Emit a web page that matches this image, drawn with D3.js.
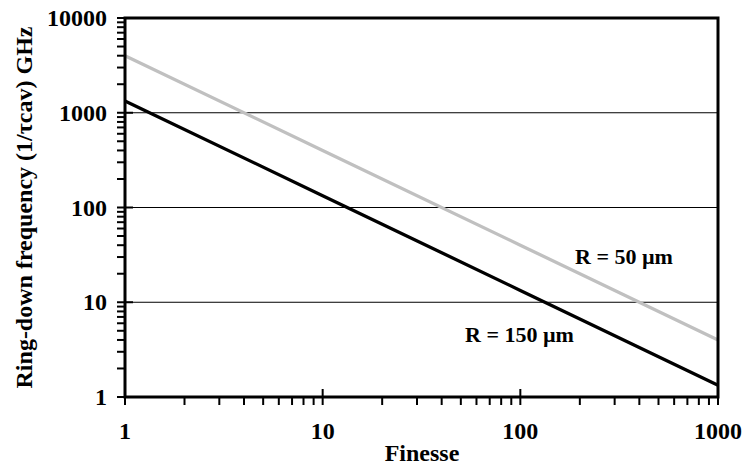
<!DOCTYPE html>
<html lang="en">
<head>
<meta charset="utf-8">
<title>Ring-down frequency</title>
<script src="https://cdn.jsdelivr.net/npm/d3@7"></script>
<style>
  body { margin: 0; background: #fff; }
  text { font-family: "Liberation Serif", "Times New Roman", serif; font-weight: bold; fill: #000; }
</style>
</head>
<body>
<script type="text/javascript">

    var width = 745;
    var height = 465;

    // data
    var finesse = [1, 10, 100, 1000];
    var r50 = [4000, 400, 40, 4];
    var r150 = [1333, 133.3, 13.33, 1.333];
    var xTickLabels = ["1", "10", "100", "1000"];
    var yTickLabels = ["1", "10", "100", "1000", "10000"];

    // plot area (note: "top" is reserved on window)
    var plotLeft = 125, plotRight = 718, plotTop = 18, plotBottom = 397;

    var x = d3.scaleLog().domain([1, 1000]).range([plotLeft, plotRight]);
    var y = d3.scaleLog().domain([1, 10000]).range([plotBottom, plotTop]);

    var svg = d3.select("body").append("svg")
    .attr("width", width)
    .attr("height", height);

    // gridlines
    svg.selectAll("line.grid")
    .data([10, 100, 1000])
    .enter()
    .append("line")
    .attr("x1", plotLeft)
    .attr("x2", plotRight)
    .attr("y1", function (d) { return y(d); })
    .attr("y2", function (d) { return y(d); })
    .attr("stroke", "#000")
    .attr("stroke-width", 1);

    var line = d3.line()
    .x(function (d) { return x(d[0]); })
    .y(function (d) { return y(d[1]); });

    svg.append("path")
    .attr("d", line(d3.zip(finesse, r50)))
    .attr("fill", "none")
    .attr("stroke", "#c0c0c0")
    .attr("stroke-width", 3.3);

    svg.append("path")
    .attr("d", line(d3.zip(finesse, r150)))
    .attr("fill", "none")
    .attr("stroke", "#000")
    .attr("stroke-width", 3.3);

    // frame
    svg.append("rect")
    .attr("x", plotLeft)
    .attr("y", plotTop)
    .attr("width", plotRight - plotLeft)
    .attr("height", plotBottom - plotTop)
    .attr("fill", "none")
    .attr("stroke", "#000")
    .attr("stroke-width", 3);

    function isMajor(d) { return Math.abs(Math.log10(d) - Math.round(Math.log10(d))) < 1e-9; }

    // x ticks
    svg.selectAll("line.xt")
    .data(x.ticks())
    .enter()
    .append("line")
    .attr("x1", function (d) { return x(d); })
    .attr("x2", function (d) { return x(d); })
    .attr("y1", function (d) { return isMajor(d) ? plotBottom - 8 : plotBottom; })
    .attr("y2", plotBottom + 8)
    .attr("stroke", "#000")
    .attr("stroke-width", 2);

    // y ticks
    svg.selectAll("line.yt")
    .data(y.ticks())
    .enter()
    .append("line")
    .attr("y1", function (d) { return y(d); })
    .attr("y2", function (d) { return y(d); })
    .attr("x1", plotLeft - 8)
    .attr("x2", function (d) { return isMajor(d) ? plotLeft + 8 : plotLeft; })
    .attr("stroke", "#000")
    .attr("stroke-width", 2);

    svg.selectAll("text.xl")
    .data(xTickLabels)
    .enter()
    .append("text")
    .attr("x", function (d) { return x(+d); })
    .attr("y", 439)
    .attr("text-anchor", "middle")
    .attr("font-size", 24)
    .text(function (d) { return d; });

    svg.selectAll("text.yl")
    .data(yTickLabels)
    .enter()
    .append("text")
    .attr("x", 107)
    .attr("y", function (d) { return y(+d) + 8; })
    .attr("text-anchor", "end")
    .attr("font-size", 24)
    .text(function (d) { return d; });

    svg.append("text")
    .attr("x", 422)
    .attr("y", 461)
    .attr("text-anchor", "middle")
    .attr("font-size", 24)
    .text("Finesse");

    svg.append("text")
    .attr("transform", "translate(32," + ((plotTop + plotBottom) / 2) + ") rotate(-90)")
    .attr("text-anchor", "middle")
    .attr("font-size", 24)
    .text("Ring-down frequency (1/\u03c4cav) GHz");

    svg.append("text")
    .attr("x", 575)
    .attr("y", 264)
    .attr("font-size", 22)
    .text("R = 50 \u00b5m");

    svg.append("text")
    .attr("x", 465)
    .attr("y", 342)
    .attr("font-size", 22)
    .text("R = 150 \u00b5m");

</script>
</body>
</html>
